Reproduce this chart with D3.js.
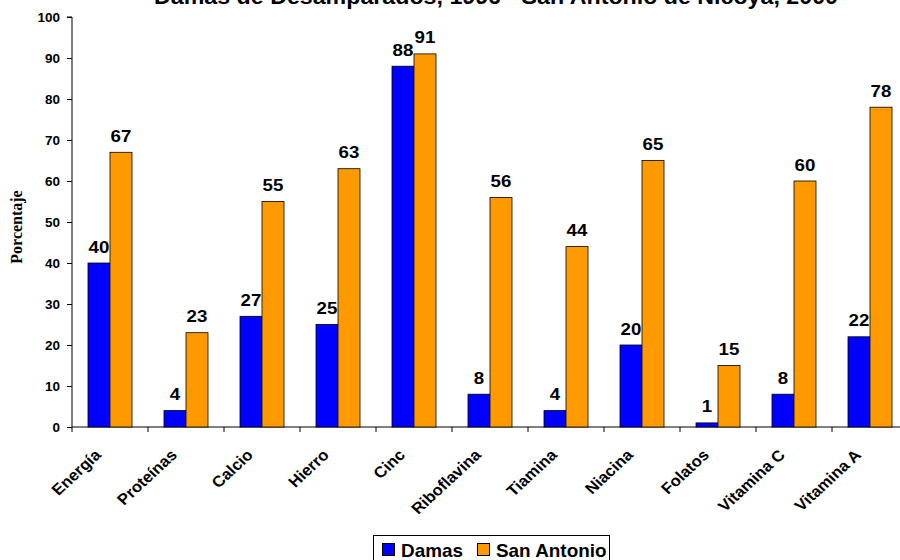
<!DOCTYPE html>
<html><head><meta charset="utf-8">
<script src="https://cdn.jsdelivr.net/npm/d3@7"></script>
<style>body{margin:0;background:#fff}svg{display:block}</style>
</head><body>
<svg id="c" width="900" height="560"></svg>
<script>
const categories = ["Energía","Proteínas","Calcio","Hierro","Cinc","Riboflavina","Tiamina","Niacina","Folatos","Vitamina C","Vitamina A"];
const seriesNames = ["Damas","San Antonio"];
const damas = [40,4,27,25,88,8,4,20,1,8,22];
const sanAntonio = [67,23,55,63,91,56,44,65,15,60,78];
const yTicks = [0,10,20,30,40,50,60,70,80,90,100];
const colors = ["#0000FF","#FF9900"];
const title = "Damas de Desamparados, 1996 - San Antonio de Nicoya, 2000";

(function(){
const SX = 1.08; // horizontal text stretch seen in the reference
const FONT = "Arial, 'Liberation Sans', sans-serif";
const svg = d3.select("#c");
const left = 72, plotTop = 17, bottom = 427, step = 76;
const x = d3.scaleBand().domain(categories).range([left, left + step*categories.length]).paddingInner(0).paddingOuter(0);
const y = d3.scaleLinear().domain([0,100]).range([bottom, plotTop]);
const inner = d3.scaleBand().domain(seriesNames).range([16, 60]);

function stext(g, px, py, extra){
  return g.append("text").attr("transform",`translate(${px},${py}) scale(${SX},1)${extra||""}`);
}

stext(svg, 496, 4).attr("text-anchor","middle")
  .attr("font-family",FONT).attr("font-weight","bold").attr("font-size",21.5)
  .text(title);

// y axis
const ya = svg.append("g").attr("transform",`translate(${left},0)`)
  .call(d3.axisLeft(y).tickValues(yTicks).tickSize(5).tickFormat(""));
ya.select(".domain").attr("stroke","#000").attr("d",`M-5,${plotTop}H0V${bottom}`);
ya.selectAll(".tick line").attr("stroke","#000");
yTicks.forEach(t=>{
  stext(svg, left-12, y(t)+4.5).attr("text-anchor","end")
    .attr("font-family",FONT).attr("font-weight","bold").attr("font-size",12.5).text(t);
});

// x axis
const xa = svg.append("g").attr("transform",`translate(0,${bottom})`);
xa.append("line").attr("x1",left).attr("x2",left+step*categories.length).attr("y1",0).attr("y2",0).attr("stroke","#000");
xa.selectAll("line.t").data(d3.range(categories.length+1)).join("line").attr("class","t")
  .attr("x1",i=>left+i*step).attr("x2",i=>left+i*step).attr("y1",0).attr("y2",5).attr("stroke","#000");
categories.forEach(c=>{
  stext(svg, x(c)+x.bandwidth()/2-8, bottom+29, " rotate(-45)")
    .attr("text-anchor","end")
    .attr("font-family",FONT).attr("font-weight","bold").attr("font-size",15.5)
    .text(c);
});

// bars
const data = [damas, sanAntonio];
data.forEach((vals, si) => {
  const g = svg.append("g");
  g.selectAll("rect").data(categories).join("rect")
    .attr("x",(d)=>x(d)+inner(seriesNames[si]))
    .attr("y",(d,i)=>y(vals[i]))
    .attr("width",inner.bandwidth())
    .attr("height",(d,i)=>y(0)-y(vals[i]))
    .attr("fill",colors[si]).attr("stroke","#000").attr("stroke-width",0.8);
  categories.forEach((c,i)=>{
    stext(g, x(c)+inner(seriesNames[si])+inner.bandwidth()/2, y(vals[i])-10.5)
      .attr("text-anchor","middle")
      .attr("font-family",FONT).attr("font-weight","bold").attr("font-size",17.3)
      .text(vals[i]);
  });
});

// y label
svg.append("text").attr("transform","translate(21.5,227) scale(1.08,1) rotate(-90)").attr("text-anchor","middle")
  .attr("font-family","'Times New Roman', 'Liberation Serif', serif").attr("font-weight","bold").attr("font-size",16)
  .text("Porcentaje");

// legend
const lg = svg.append("g");
lg.append("rect").attr("x",373.5).attr("y",535.5).attr("width",236).attr("height",30).attr("fill","#fff").attr("stroke","#000");
const lx = [382, 477];
seriesNames.forEach((s,i)=>{
  lg.append("rect").attr("x",lx[i]+0.5).attr("y",543.5).attr("width",12).attr("height",12).attr("fill",colors[i]).attr("stroke","#000").attr("stroke-width",1);
  stext(lg, lx[i]+19, 556.5).attr("font-family",FONT).attr("font-weight","bold").attr("font-size",17.5).text(s);
});
})();
</script>
</body></html>
